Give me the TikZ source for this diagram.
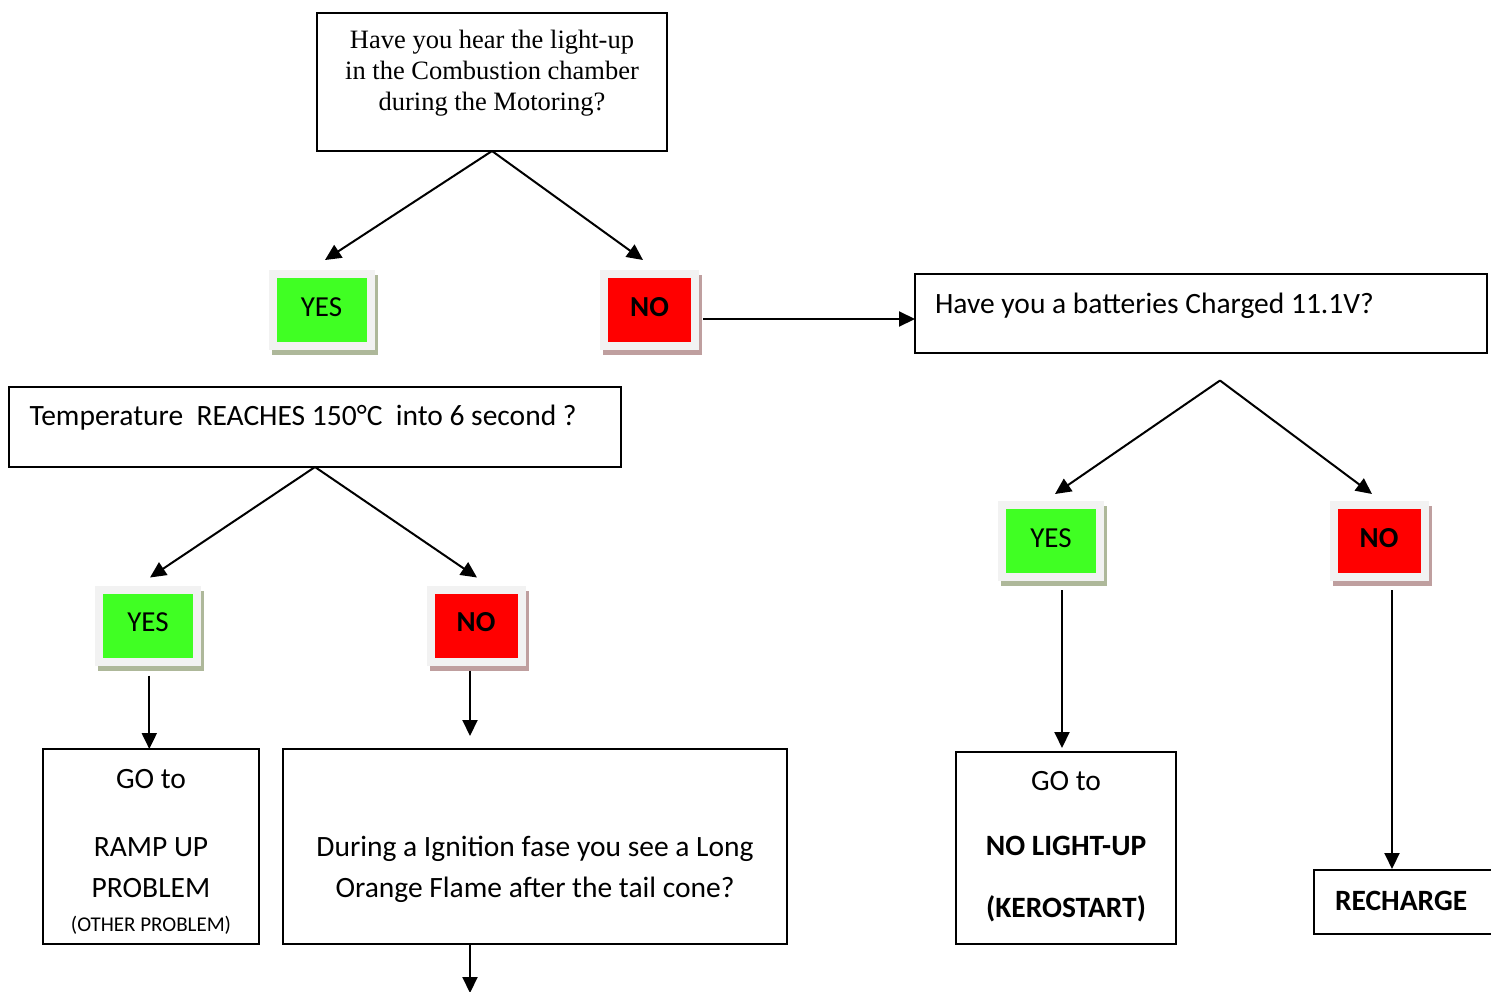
\documentclass[tikz,border=0pt]{standalone}
\usepackage{fontspec}
\setmainfont{Carlito}
\newfontfamily\timesfont{Liberation Serif}
\usetikzlibrary{arrows.meta}
\definecolor{yesgreen}{HTML}{40FF23}
\definecolor{nored}{HTML}{FF0000}
\definecolor{framegray}{HTML}{F2F2F2}
\definecolor{yesshadow}{HTML}{AEB89A}
\definecolor{noshadow}{HTML}{BF9F9F}
\setlength{\tabcolsep}{0pt}
\begin{document}
\begin{tikzpicture}[x=1pt,y=-1pt,
  box/.style={draw, line width=2pt, outer sep=0pt, inner sep=0pt},
  mainfont/.style={font=\fontsize{29.5}{42}\selectfont},
  choice/.style={draw=framegray, line width=8pt, outer sep=4pt, minimum height=72pt,
    inner sep=0pt, text height=20pt, text depth=8pt, font=\fontsize{29}{42}\selectfont},
  yesbox/.style={choice, fill=yesgreen, minimum width=98pt,
    preaction={draw=yesshadow, fill=yesshadow, line width=8pt,
      transform canvas={xshift=3pt,yshift=-5pt}}},
  nobox/.style={choice, fill=nored, minimum width=91pt,
    font=\fontsize{29}{42}\selectfont\bfseries,
    preaction={draw=noshadow, fill=noshadow, line width=8pt,
      transform canvas={xshift=3pt,yshift=-5pt}}},
  arr/.style={line width=2pt, -{Triangle[length=16pt,width=15pt]}}
]
\useasboundingbox (0,0) rectangle (1491,991);

% question boxes
\node[box, minimum width=350pt, minimum height=138pt, text height=10pt, text depth=78pt,
  font=\timesfont\fontsize{26.5}{31}\selectfont] (top) at (492,82)
  {\begin{tabular}[t]{c}Have you hear the light-up\\in the Combustion chamber\\during the Motoring?\end{tabular}};

\node[box, mainfont, minimum width=572pt, minimum height=79pt,
  text height=20pt, text depth=21pt] (bat) at (1201,313.5)
  {\makebox[532pt][l]{Have you a batteries Charged 11.1V?}};

\node[box, mainfont, minimum width=612pt, minimum height=80pt,
  text height=20pt, text depth=24pt] (temp) at (315,427)
  {\makebox[571pt][l]{Temperature\ \ REACHES 150°C\ \ into 6 second ?}};

\node[box, mainfont, minimum width=216pt, minimum height=195pt, text height=10pt, text depth=127pt] (ramp) at (151,846.5)
  {\begin{tabular}[t]{c}GO to\\[26pt]RAMP UP\\[-1pt]PROBLEM\\[-7.5pt]{\fontsize{21}{25}\selectfont (OTHER PROBLEM)}\end{tabular}};

\node[box, mainfont, minimum width=504pt, minimum height=195pt, text height=30pt, text depth=11pt] (during) at (535,846.5)
  {\begin{tabular}[t]{c}During a Ignition fase you see a Long\\[-1pt]Orange Flame after the tail cone?\end{tabular}};

\node[box, mainfont, minimum width=220pt, minimum height=192pt, text height=10pt, text depth=126pt] (kero) at (1066,848)
  {\begin{tabular}[t]{c}GO to\\[23pt]\textbf{NO LIGHT-UP}\\[20pt]\textbf{(KEROSTART)}\end{tabular}};

\node[box, font=\fontsize{29.5}{42}\selectfont\bfseries, minimum width=200pt, minimum height=64pt,
  text height=24pt, text depth=8pt] (rech) at (1414,902) {\makebox[158pt][l]{RECHARGE}};

% yes / no boxes
\node[yesbox] (y1) at (321.5,310) {YES};
\node[nobox]  (n1) at (649.5,310) {NO};
\node[yesbox] (y2) at (1051,541) {YES};
\node[nobox]  (n2) at (1379,541) {NO};
\node[yesbox] (y3) at (148,625.5) {YES};
\node[nobox]  (n3) at (476,625.5) {NO};

% connectors
\draw[arr] (top.south) -- ([xshift=3.5pt,yshift=10pt]y1.north);
\draw[arr] (top.south) -- ([xshift=-6.5pt,yshift=10pt]n1.north);
\coordinate (s1) at ([xshift=4pt,yshift=-9pt]n1.east);
\draw[arr] (s1) -- (s1 -| bat.west);
\coordinate (apex2) at ([xshift=19pt,yshift=-27.5pt]bat.south);
\draw[arr] (apex2) -- ([xshift=4pt,yshift=7pt]y2.north);
\draw[arr] (apex2) -- ([xshift=-7pt,yshift=7pt]n2.north);
\draw[arr] (temp.south) -- ([xshift=2pt,yshift=8pt]y3.north);
\draw[arr] (temp.south) -- ([xshift=1pt,yshift=8pt]n3.north);
\coordinate (s3) at ([xshift=1.3pt,yshift=-10pt]y3.south);
\draw[arr] (s3) -- (s3 |- ramp.north);
\coordinate (s4) at ([xshift=-6pt,yshift=-5pt]n3.south);
\draw[arr, shorten >=13pt] (s4) -- (s4 |- during.north);
\coordinate (e5) at ([xshift=-65pt,yshift=-49pt]during.south);
\draw[arr] (e5 |- during.south) -- (e5);
\coordinate (s6) at ([xshift=11pt,yshift=-9pt]y2.south);
\draw[arr, shorten >=4pt] (s6) -- (s6 |- kero.north);
\coordinate (s7) at ([xshift=13pt,yshift=-9pt]n2.south);
\draw[arr, shorten >=1pt] (s7) -- (s7 |- rech.north);
\end{tikzpicture}
\end{document}
